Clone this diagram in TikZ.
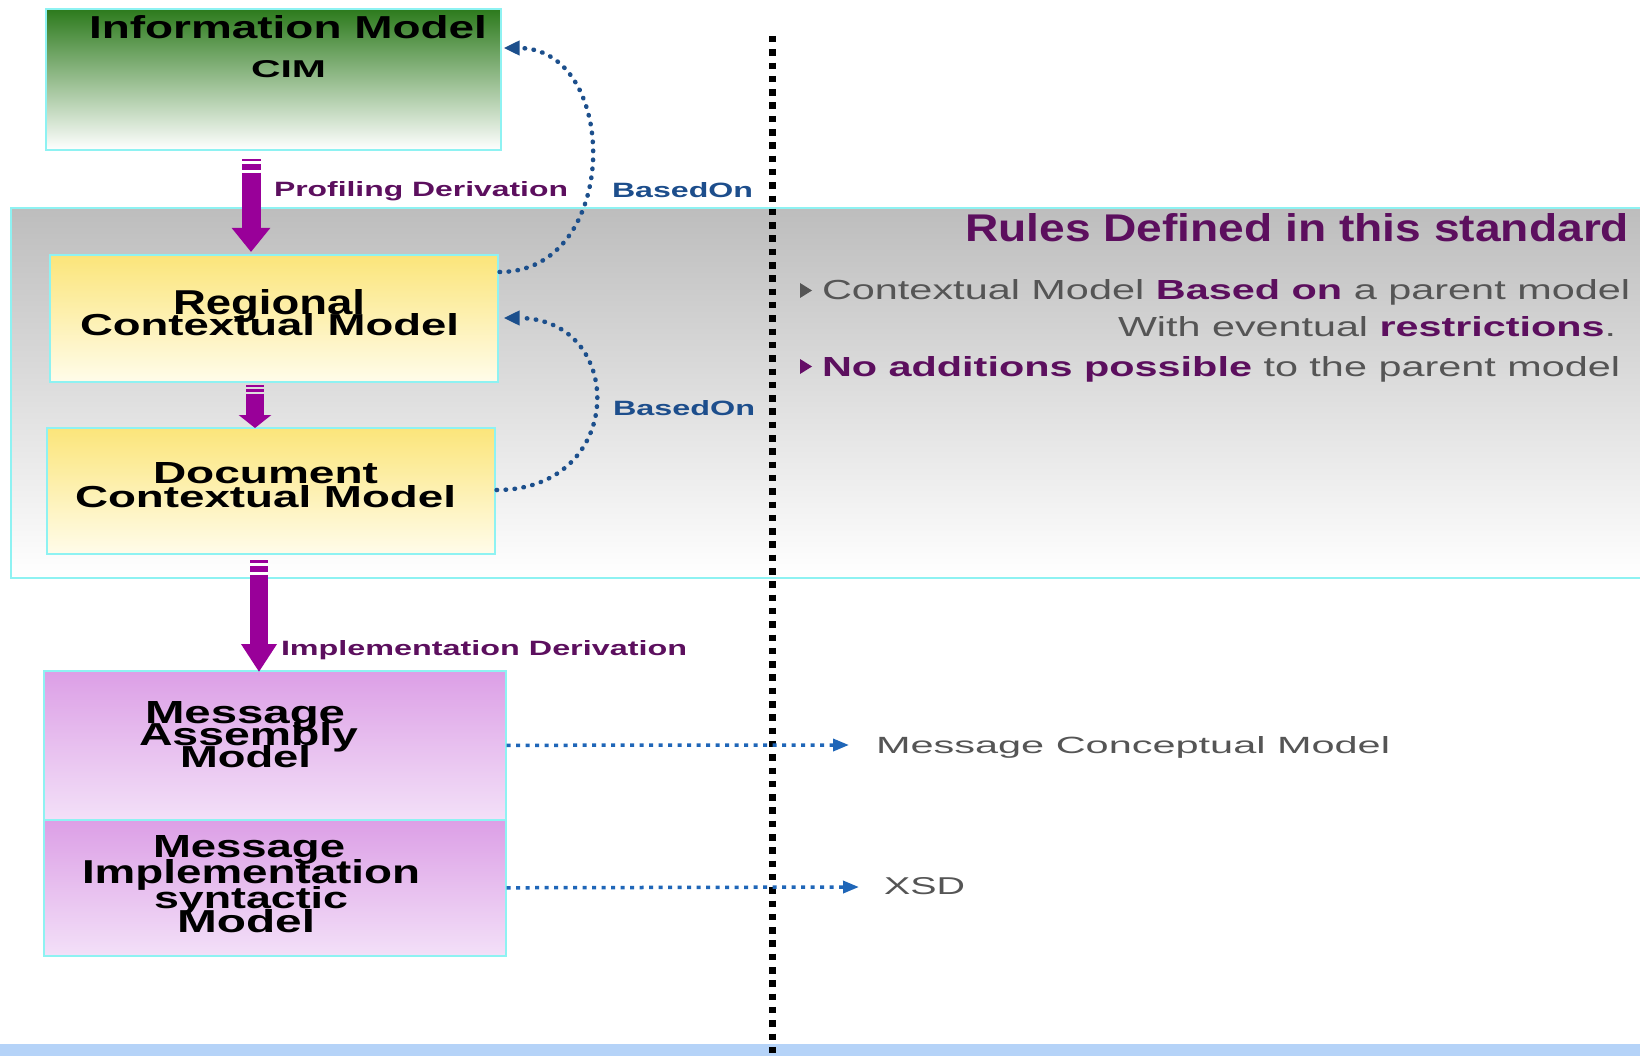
\documentclass[tikz,border=0pt]{standalone}
\usepackage{fontspec}
\setmainfont{Liberation Sans}
\usepackage{graphicx}
\usetikzlibrary{arrows.meta,calc}
\definecolor{cyb}{HTML}{8EF2F2}
\definecolor{parr}{HTML}{990099}
\definecolor{lpurple}{HTML}{5C0F5E}
\definecolor{lblue}{HTML}{1D4E8C}
\definecolor{arcb}{HTML}{1C4F8C}
\definecolor{hblue}{HTML}{1F66B8}
\definecolor{gtext}{HTML}{555555}
\definecolor{bandtop}{HTML}{BDBDBD}
\definecolor{bandmid}{HTML}{D6D6D6}
\definecolor{grntop}{HTML}{2C7A1C}
\definecolor{grnmid}{HTML}{A3B99D}
\definecolor{yeltop}{HTML}{FBE57A}
\definecolor{yelmid}{HTML}{FDF3C0}
\definecolor{yelbot}{HTML}{FFFCEA}
\definecolor{pnktop}{HTML}{DC9FE6}
\definecolor{pnkmid}{HTML}{E8C3EF}
\definecolor{pnkbot}{HTML}{F3E0F8}
\definecolor{barblue}{HTML}{B5D3F8}
\newcommand{\fitline}[3]{\resizebox{#1pt}{#2pt}{#3\vphantom{M}}}
\begin{document}
\begin{tikzpicture}[x=1pt,y=-1pt,
  txt/.style={inner sep=0pt, outer sep=0pt, anchor=base west},
  boxc/.style={draw=cyb, line width=1.6pt, rectangle, inner sep=0pt, anchor=north west},
  shaft/.style={draw=parr, line width=#1},
  arcstyle/.style={draw=arcb, line width=4.5pt, line cap=round, dash pattern=on 0.5pt off 8.5pt, -{Triangle[length=16pt,width=14pt]}},
  hstyle/.style={draw=hblue, line width=3.5pt, dash pattern=on 4pt off 5.5pt, -{Triangle[length=16pt,width=12pt]}},
  vstyle/.style={draw=black, line width=7pt, dash pattern=on 6.5pt off 6.8pt}
]
\useasboundingbox (0,0) rectangle (1640,1056);
\fill[white] (0,0) rectangle (1640,1056);

% band
\node[boxc, minimum width=1640pt, minimum height=370pt, top color=bandtop, middle color=bandmid, bottom color=white] (band) at (10,207) {};

% boxes
\node[boxc, minimum width=455pt, minimum height=141pt, top color=grntop, middle color=grnmid, bottom color=white] (info) at (45,8) {};
\node[boxc, minimum width=448pt, minimum height=127pt, top color=yeltop, middle color=yelmid, bottom color=yelbot] (regional) at (49,254) {};
\node[boxc, minimum width=448pt, minimum height=126pt, top color=yeltop, middle color=yelmid, bottom color=yelbot] (document) at (46,427) {};
\node[boxc, minimum width=462pt, minimum height=149pt, top color=pnktop, middle color=pnkmid, bottom color=pnkbot] (mam) at (43,670) {};
\node[boxc, minimum width=462pt, minimum height=136pt, top color=pnktop, middle color=pnkmid, bottom color=pnkbot] (mim) at (43,819) {};

% bottom bar
\fill[barblue] (0,1044) rectangle (1640,1056);

% box texts
\node[txt] (im) at (89,39) {\fitline{398}{23}{\bfseries Information Model}};
\node[txt] (cim) at (251,78) {\fitline{75}{17}{\bfseries CIM}};
\node[txt] (rg1) at (173,315) {\fitline{192}{25}{\bfseries Regional}};
\node[txt] (rg2) at (80,335) {\fitline{379}{22}{\bfseries Contextual Model}};
\node[txt] (dc1) at (153,483) {\fitline{225}{21}{\bfseries Document}};
\node[txt] (dc2) at (75,507) {\fitline{381}{22}{\bfseries Contextual Model}};
\node[txt] (ma1) at (145,723) {\fitline{200}{22}{\bfseries Message}};
\node[txt] (ma2) at (139,745) {\fitline{219}{23}{\bfseries Assembly}};
\node[txt] (ma3) at (180,767) {\fitline{131}{22}{\bfseries Model}};
\node[txt] (mi1) at (153,857) {\fitline{192}{22}{\bfseries Message}};
\node[txt] (mi2) at (82,883) {\fitline{338}{24}{\bfseries Implementation}};
\node[txt] (mi3) at (154,908) {\fitline{194}{22}{\bfseries syntactic}};
\node[txt] (mi4) at (177,932) {\fitline{138}{23}{\bfseries Model}};

% labels
\node[txt, text=lpurple] (pd) at (274,197) {\fitline{294}{15}{\bfseries Profiling Derivation}};
\node[txt, text=lblue] (bo1) at (612,198) {\fitline{141}{15}{\bfseries BasedOn}};
\node[txt, text=lblue] (bo2) at (613,415) {\fitline{142}{15}{\bfseries BasedOn}};
\node[txt, text=lpurple] (idv) at (281,655) {\fitline{406}{15}{\bfseries Implementation Derivation}};

% right side texts
\node[txt, text=lpurple] (title) at (965,242) {\fitline{664}{28}{\bfseries Rules Defined in this standard}};
\node[txt, text=gtext] (b1) at (822,300) {\fitline{808}{20}{Contextual Model \textcolor{lpurple}{\bfseries Based on} a parent model}};
\node[txt, text=gtext] (b2) at (1118,337) {\fitline{498}{20}{With eventual \textcolor{lpurple}{\bfseries restrictions}.}};
\node[txt, text=gtext] (b3) at (822,376) {\fitline{798}{20}{\textcolor{lpurple}{\bfseries No additions possible} to the parent model}};
\node[txt, text=gtext] (mcm) at (876,753) {\fitline{514}{17}{Message Conceptual Model}};
\node[txt, text=gtext] (xsd) at (884,894) {\fitline{81}{17}{XSD}};

% bullet triangles
\fill[gtext] (800,283) -- (812,290.5) -- (800,298) -- cycle;
\fill[lpurple!85!parr] (800,359) -- (812,366.5) -- (800,374) -- cycle;

% purple arrows
\coordinate (p1) at ($(info.south west)+(206,8)$);
\coordinate (p1e) at ($(regional.north west)+(202,-2)$);
\fill[parr] ($(p1)+(-9.5,0)$) rectangle ($(p1)+(9.5,2.5)$);
\fill[parr] ($(p1)+(-9.5,5)$) rectangle ($(p1)+(9.5,11)$);
\draw[shaft=19pt, -{Triangle[length=24pt,width=37pt]}] ($(p1)+(0,14)$) -- (p1e);

\coordinate (p2) at ($(regional.south west)+(206,2)$);
\coordinate (p2e) at ($(document.north west)+(209,1)$);
\fill[parr] ($(p2)+(-9,0)$) rectangle ($(p2)+(9,2.5)$);
\fill[parr] ($(p2)+(-9,4)$) rectangle ($(p2)+(9,7)$);
\draw[shaft=18pt, -{Triangle[length=13pt,width=32pt]}] ($(p2)+(0,9)$) -- (p2e);

\coordinate (p3) at ($(document.south west)+(213,5)$);
\coordinate (p3e) at ($(mam.north west)+(216,2)$);
\fill[parr] ($(p3)+(-9,0)$) rectangle ($(p3)+(9,3)$);
\fill[parr] ($(p3)+(-9,6)$) rectangle ($(p3)+(9,12)$);
\draw[shaft=18pt, -{Triangle[length=28pt,width=34pt]}] ($(p3)+(0,15)$) -- (p3e);

% BasedOn arcs
\coordinate (a1s) at ($(regional.north east)+(1,18)$);
\coordinate (a1e) at ($(info.north east)+(2,40)$);
\draw[arcstyle] (a1s) .. controls (621,272) and (621,48) .. (a1e);
\coordinate (a2s) at ($(document.north east)+(1,63)$);
\coordinate (a2e) at ($(regional.north east)+(5,64)$);
\draw[arcstyle] (a2s) .. controls (627,490) and (627,318) .. (a2e);

% vertical separator
\coordinate (vtop) at (772,36);
\coordinate (vbot) at (772,1056);
\draw[vstyle] (vtop) -- (vbot);

% horizontal arrows
\coordinate (h1e) at (849,745);
\coordinate (h2e) at (859,887);
\draw[hstyle] (mam.east) -- (h1e);
\draw[hstyle] (mim.east) -- (h2e);
\end{tikzpicture}
\end{document}
